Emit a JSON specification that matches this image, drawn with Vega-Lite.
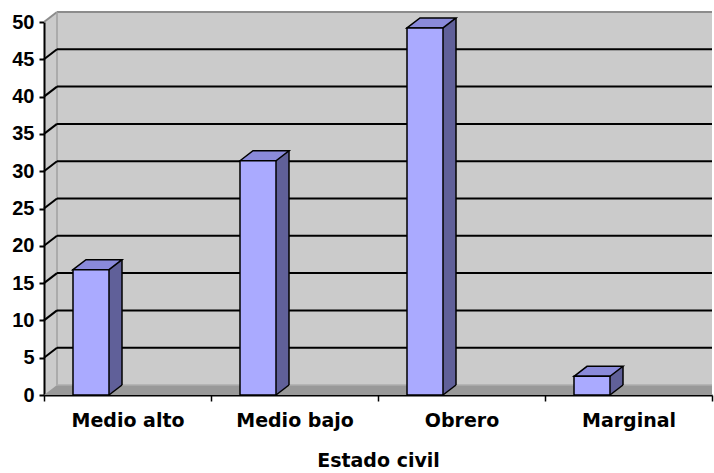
{
  "$schema": "https://vega.github.io/schema/vega-lite/v6.json",
  "width": 668,
  "height": 373,
  "autosize": {"type": "none"},
  "padding": {"left": 44, "top": 22, "right": 2, "bottom": 78},
  "background": "white",
  "config": {
    "view": {"fill": "#CBCBCB", "stroke": null},
    "font": "Liberation Sans",
    "axisX": {
      "tickBand": "extent",
      "labelAngle": 0,
      "domainColor": "black",
      "domainWidth": 2,
      "tickColor": "black",
      "tickWidth": 1.5,
      "tickSize": 6,
      "labelFont": "DejaVu Sans",
      "labelFontWeight": "bold",
      "labelFontSize": 19,
      "labelColor": "black",
      "labelPadding": 10,
      "titleFont": "DejaVu Sans",
      "titleFontWeight": "bold",
      "titleFontSize": 19,
      "titleColor": "black",
      "titlePadding": 21
    },
    "axisY": {
      "tickCount": 10,
      "grid": false,
      "domainColor": "black",
      "domainWidth": 2,
      "tickColor": "black",
      "tickWidth": 2,
      "tickSize": 5,
      "labelFont": "Liberation Sans",
      "labelFontWeight": "bold",
      "labelFontSize": 20,
      "labelColor": "black",
      "labelPadding": 5
    }
  },
  "datasets": {
    "estratos": [
      {"estrato": "Medio alto", "porcentaje": 16.8},
      {"estrato": "Medio bajo", "porcentaje": 31.4},
      {"estrato": "Obrero", "porcentaje": 49.2},
      {"estrato": "Marginal", "porcentaje": 2.5}
    ],
    "marcas": [
      {"v": 0}, {"v": 5}, {"v": 10}, {"v": 15}, {"v": 20}, {"v": 25},
      {"v": 30}, {"v": 35}, {"v": 40}, {"v": 45}, {"v": 50}
    ]
  },
  "layer": [
    {
      "data": {"name": "marcas"},
      "transform": [{"filter": "datum.v == 50"}],
      "layer": [
        {
          "mark": {"type": "rect", "fill": "#CBCBCB", "yOffset": -10},
          "encoding": {
            "x": {"value": 13},
            "x2": {"value": "width"},
            "y": {"field": "v", "type": "quantitative", "title": null, "scale": {"domain": [0, 50], "nice": false}},
            "y2": {"field": "v"}
          }
        },
        {
          "mark": {"type": "point", "shape": "M0,0 L13,-10 L13,0 Z", "size": 4, "filled": true, "fill": "#CBCBCB", "strokeWidth": 0, "opacity": 1},
          "encoding": {
            "x": {"value": 0},
            "y": {"field": "v", "type": "quantitative", "title": null}
          }
        },
        {
          "mark": {"type": "rule", "color": "#8C8C8C", "strokeWidth": 2, "yOffset": -10},
          "encoding": {
            "x": {"value": 13},
            "x2": {"value": "width"},
            "y": {"field": "v", "type": "quantitative", "title": null}
          }
        },
        {
          "mark": {"type": "rule", "color": "#8C8C8C", "strokeWidth": 2, "y2Offset": -10},
          "encoding": {
            "x": {"value": 0},
            "x2": {"value": 13},
            "y": {"field": "v", "type": "quantitative", "title": null},
            "y2": {"field": "v"}
          }
        },
        {
          "mark": {"type": "rule", "color": "#A0A0A0", "strokeWidth": 1.5, "yOffset": -10, "y2Offset": -10},
          "encoding": {
            "x": {"value": 13},
            "y": {"field": "v", "type": "quantitative", "title": null},
            "y2": {"datum": 0}
          }
        }
      ]
    },
    {
      "data": {"name": "marcas"},
      "transform": [{"filter": "datum.v > 0 && datum.v < 50"}],
      "layer": [
        {
          "mark": {"type": "rule", "color": "black", "strokeWidth": 2, "yOffset": -10},
          "encoding": {
            "x": {"value": 13},
            "x2": {"value": "width"},
            "y": {"field": "v", "type": "quantitative", "title": null}
          }
        },
        {
          "mark": {"type": "rule", "color": "black", "strokeWidth": 2, "y2Offset": -10},
          "encoding": {
            "x": {"value": 0},
            "x2": {"value": 13},
            "y": {"field": "v", "type": "quantitative", "title": null},
            "y2": {"field": "v"}
          }
        }
      ]
    },
    {
      "data": {"name": "marcas"},
      "transform": [{"filter": "datum.v == 0"}],
      "layer": [
        {
          "mark": {"type": "rect", "fill": "#999999", "yOffset": -10},
          "encoding": {
            "x": {"value": 13},
            "x2": {"value": "width"},
            "y": {"field": "v", "type": "quantitative", "title": null},
            "y2": {"field": "v"}
          }
        },
        {
          "mark": {"type": "point", "shape": "M0,0 L13,-10 L13,0 Z", "size": 4, "filled": true, "fill": "#999999", "strokeWidth": 0, "opacity": 1},
          "encoding": {
            "x": {"value": 0},
            "y": {"field": "v", "type": "quantitative", "title": null}
          }
        },
        {
          "mark": {"type": "rule", "color": "#AEAEAE", "strokeWidth": 1.5, "yOffset": -10},
          "encoding": {
            "x": {"value": 13},
            "x2": {"value": "width"},
            "y": {"field": "v", "type": "quantitative", "title": null}
          }
        }
      ]
    },
    {
      "data": {"name": "estratos"},
      "layer": [
        {
          "mark": {"type": "bar", "width": 13, "xOffset": -12, "yOffset": -10, "y2Offset": -10, "fill": "#606099", "strokeWidth": 0},
          "encoding": {
            "x": {"field": "estrato", "type": "nominal", "title": "Estado civil", "sort": ["Medio alto", "Medio bajo", "Obrero", "Marginal"], "scale": {"paddingInner": 0, "paddingOuter": 0}},
            "y": {"field": "porcentaje", "type": "quantitative", "title": null},
            "y2": {"datum": 0}
          }
        },
        {
          "mark": {"type": "point", "shape": "M-18.5,0 L-18.5,-10 L-5.5,-10 Z", "size": 4, "filled": true, "fill": "#606099", "strokeWidth": 0, "opacity": 1},
          "encoding": {
            "x": {"field": "estrato", "type": "nominal", "title": "Estado civil", "sort": ["Medio alto", "Medio bajo", "Obrero", "Marginal"]},
            "y": {"datum": 0, "type": "quantitative", "title": null}
          }
        },
        {
          "mark": {"type": "point", "shape": "M-18.5,0 L-5.5,-10", "size": 4, "filled": false, "fill": null, "stroke": "black", "strokeWidth": 1.5, "opacity": 1},
          "encoding": {
            "x": {"field": "estrato", "type": "nominal", "title": "Estado civil", "sort": ["Medio alto", "Medio bajo", "Obrero", "Marginal"]},
            "y": {"datum": 0, "type": "quantitative", "title": null}
          }
        },
        {
          "mark": {"type": "rule", "color": "black", "strokeWidth": 1.5, "xOffset": -5.5, "yOffset": -10, "y2Offset": -10},
          "encoding": {
            "x": {"field": "estrato", "type": "nominal", "title": "Estado civil", "sort": ["Medio alto", "Medio bajo", "Obrero", "Marginal"]},
            "y": {"field": "porcentaje", "type": "quantitative", "title": null},
            "y2": {"datum": 0}
          }
        },
        {
          "mark": {"type": "point", "shape": "M-54.5,0 L-41.5,-10 L-5.5,-10 L-18.5,0 Z", "size": 4, "filled": true, "fill": "#8A8ADA", "stroke": "black", "strokeWidth": 1.5, "opacity": 1},
          "encoding": {
            "x": {"field": "estrato", "type": "nominal", "title": "Estado civil", "sort": ["Medio alto", "Medio bajo", "Obrero", "Marginal"]},
            "y": {"field": "porcentaje", "type": "quantitative", "title": null}
          }
        },
        {
          "mark": {"type": "bar", "width": 36, "xOffset": -36.5, "fill": "#AAAAFF", "stroke": "black", "strokeWidth": 1.5},
          "encoding": {
            "x": {"field": "estrato", "type": "nominal", "title": "Estado civil", "sort": ["Medio alto", "Medio bajo", "Obrero", "Marginal"]},
            "y": {"field": "porcentaje", "type": "quantitative", "title": null}
          }
        }
      ]
    }
  ]
}
